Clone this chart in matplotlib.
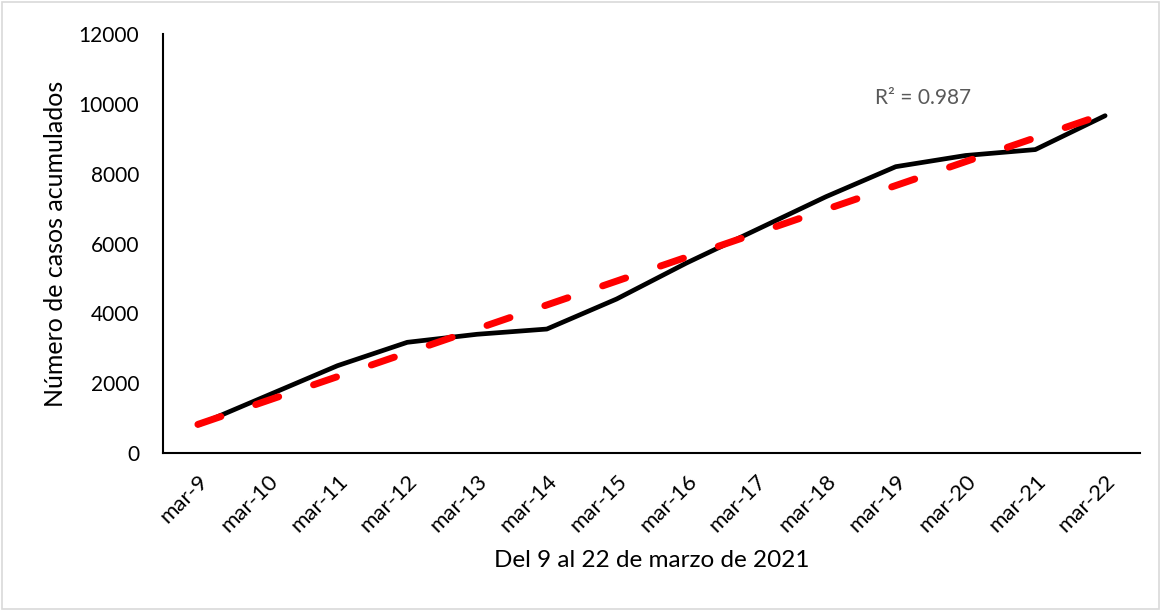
import numpy as np
import matplotlib
matplotlib.use("Agg")
import matplotlib.pyplot as plt
from matplotlib.patches import Rectangle

# Data
categories = ["mar-9", "mar-10", "mar-11", "mar-12", "mar-13", "mar-14", "mar-15",
              "mar-16", "mar-17", "mar-18", "mar-19", "mar-20", "mar-21", "mar-22"]
casos = [800, 1650, 2500, 3170, 3400, 3550, 4410, 5440, 6390, 7340, 8200, 8520, 8690, 9660]
yticks = [0, 2000, 4000, 6000, 8000, 10000, 12000]
r2_label = "R² = 0.987"
xlabel = "Del 9 al 22 de marzo de 2021"
ylabel = "Número de casos acumulados"

plt.rcParams['font.family'] = ['Lato', 'DejaVu Sans']

fig = plt.figure(figsize=(11.61, 6.10), dpi=100)
ax = fig.add_axes([163/1161, 1 - 453/610, (1140-163)/1161, (453-34)/610])

x = np.arange(len(categories))
ax.plot(x, casos, color='black', lw=3.4, solid_joinstyle='round', solid_capstyle='round', zorder=2)

coef = np.polyfit(x, casos, 1)
trend = np.polyval(coef, x)
ax.plot(x, trend, color='#ff0000', lw=5, linestyle=(0, (3.5, 5.3)),
        dash_capstyle='round', zorder=3)

ax.set_xlim(-0.5, len(categories) - 0.5)
ax.set_ylim(0, 12000)
ax.set_yticks(yticks)
ax.set_yticklabels([str(v) for v in yticks], fontsize=15)
ax.set_xticks(x)
ax.set_xticklabels(categories, rotation=45, ha='right', va='top', rotation_mode='anchor',
                   fontsize=16)
ax.tick_params(axis='both', length=0, colors='black')
ax.tick_params(axis='y', pad=17)
ax.tick_params(axis='x', pad=13)

for s in ['top', 'right']:
    ax.spines[s].set_visible(False)
for s in ['left', 'bottom']:
    ax.spines[s].set_linewidth(1.5)
    ax.spines[s].set_color('black')

ax.set_ylabel(ylabel, fontsize=18)
ax.yaxis.set_label_coords(-0.098, 0.5)
ax.set_xlabel(xlabel, fontsize=17.5)
ax.xaxis.set_label_coords(0.5, -0.232)

ax.text(9.7, 10171, r2_label, ha='left', va='center', fontsize=15, color='#595959')

fig.patches.append(Rectangle((0.002, 0.002), 0.996, 0.995, transform=fig.transFigure,
                             fill=False, edgecolor='#d9d9d9', lw=1.2))

fig.savefig("out.png", dpi=100)
